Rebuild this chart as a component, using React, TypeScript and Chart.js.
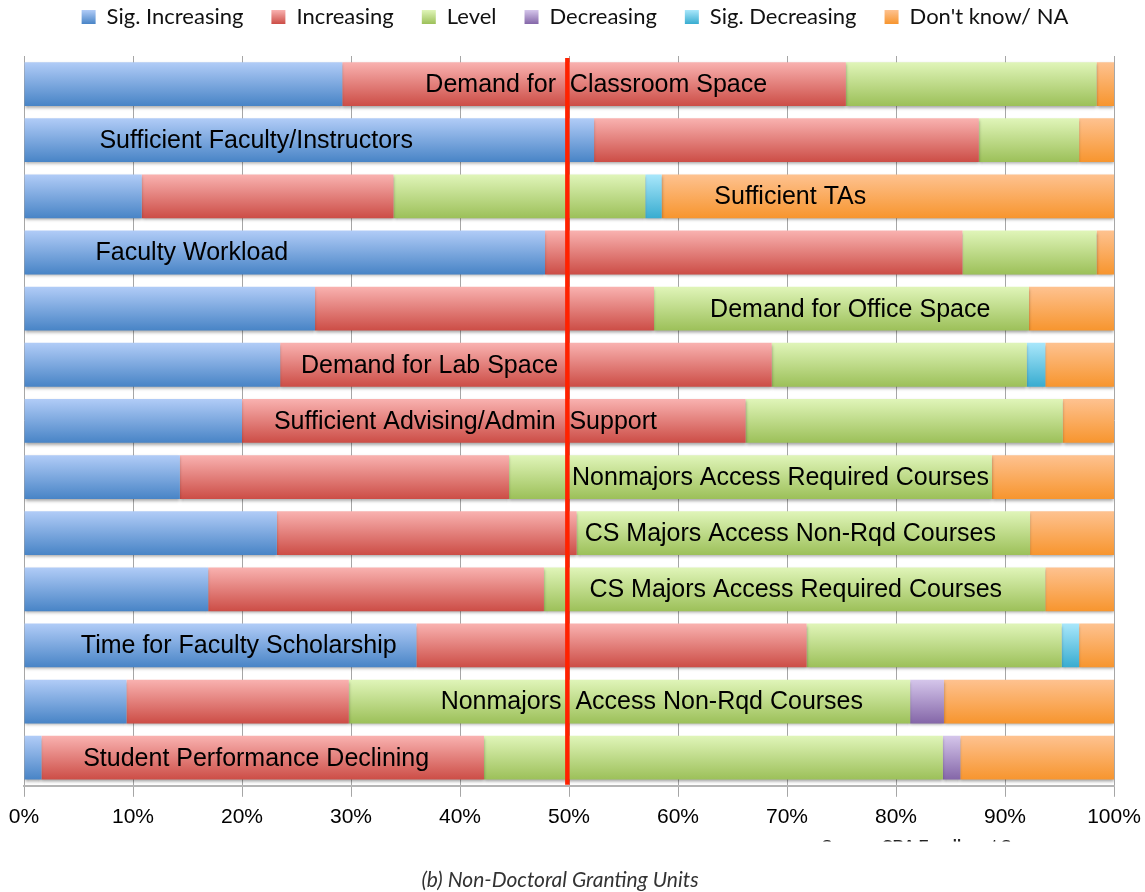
import React, { useEffect, useRef } from 'react';
import { Chart, registerables } from 'chart.js';

Chart.register(...registerables);

// ---------- data ----------
const categories = [
  'Demand for  Classroom Space',
  'Sufficient Faculty/Instructors',
  'Sufficient TAs',
  'Faculty Workload',
  'Demand for Office Space',
  'Demand for Lab Space',
  'Sufficient Advising/Admin  Support',
  'Nonmajors Access Required Courses',
  'CS Majors Access Non-Rqd Courses',
  'CS Majors Access Required Courses',
  'Time for Faculty Scholarship',
  'Nonmajors  Access Non-Rqd Courses',
  'Student Performance Declining',
];

const seriesNames = ['Sig. Increasing', 'Increasing', 'Level', 'Decreasing', 'Sig. Decreasing', "Don't know/ NA"];

const sigIncreasing = [29.2, 52.3, 10.8, 47.8, 26.7, 23.5, 20.0, 14.3, 23.2, 16.9, 36.0, 9.4, 1.6];
const increasing = [46.2, 35.3, 23.1, 38.3, 31.1, 45.1, 46.2, 30.2, 27.5, 30.8, 35.8, 20.4, 40.6];
const level = [23.0, 9.2, 23.1, 12.3, 34.4, 23.4, 29.1, 44.3, 41.6, 46.0, 23.4, 51.5, 42.1];
const decreasing = [null, null, null, null, null, null, null, null, null, null, null, 3.1, 1.6];
const sigDecreasing = [null, null, 1.5, null, null, 1.7, null, null, null, null, 1.6, null, null];
const dontKnow = [1.6, 3.2, 41.5, 1.6, 7.8, 6.3, 4.7, 11.2, 7.7, 6.3, 3.2, 15.6, 14.1];

// where each in-bar label is centred (percent on the x axis)
const labelAt = [52.5, 21.3, 70.3, 15.4, 75.8, 37.2, 40.5, 69.4, 70.3, 70.8, 19.7, 57.6, 21.3];
// red reference line (percent)
const midline = 49.85;

const xTickValues = [0, 10, 20, 30, 40, 50, 60, 70, 80, 90, 100];

const caption = '(b) Non-Doctoral Granting Units';
const sourceNote = 'Source: CRA Enrollment Survey';

// ---------- styles ----------
const palette: [string, string][] = [
  ['#b1ccf7', '#4884c6'],
  ['#f9b2b0', '#cc4d46'],
  ['#e0f5b9', '#9cc059'],
  ['#d5c6eb', '#8466a8'],
  ['#a9e7fb', '#38acd0'],
  ['#fec290', '#f7952e'],
];
const BAR_PCT = 0.78;

const makeBg = (k: number) => (ctx: any) => {
  const chart = ctx.chart;
  const area = chart.chartArea;
  const [top, bottom] = palette[k];
  if (!area || ctx.type !== 'data') return bottom;
  const ys = chart.scales.y;
  const c = ys.getPixelForValue(ctx.dataIndex);
  const half = ((area.bottom - area.top) / categories.length) * BAR_PCT / 2;
  const g = chart.ctx.createLinearGradient(0, c - half, 0, c + half);
  g.addColorStop(0, top);
  g.addColorStop(1, bottom);
  return g;
};

const LEGEND_TOP = -22;
const LEGEND_SHIFT = 6;

const decorPlugin = {
  id: 'decor',
  afterLayout(chart: any) {
    const lg = chart.legend;
    if (lg) {
      const h = lg.height;
      lg.top = LEGEND_TOP;
      lg.bottom = LEGEND_TOP + h;
      lg.left += LEGEND_SHIFT;
      lg.right += LEGEND_SHIFT;
    }
  },
  beforeDatasetsDraw(chart: any) {
    const c = chart.ctx;
    c.save();
    c.shadowColor = 'rgba(0,0,0,0.35)';
    c.shadowBlur = 3;
    c.shadowOffsetY = 2;
  },
  afterDatasetsDraw(chart: any) {
    const c = chart.ctx;
    c.restore();
    const xs = chart.scales.x;
    const ys = chart.scales.y;
    const area = chart.chartArea;
    c.save();
    c.font = '25px "Liberation Sans", Arial, sans-serif';
    c.fillStyle = '#000';
    c.textAlign = 'center';
    c.textBaseline = 'middle';
    categories.forEach((t, i) => {
      c.fillText(t, xs.getPixelForValue(labelAt[i]), ys.getPixelForValue(i) + 1);
    });
    const mx = xs.getPixelForValue(midline);
    c.strokeStyle = '#ff2200';
    c.lineWidth = 4.5;
    c.beginPath();
    c.moveTo(mx, area.top + 2);
    c.lineTo(mx, area.bottom - 1);
    c.stroke();
    c.restore();

    c.save();
    c.beginPath();
    c.rect(800, 836, 300, 5.5);
    c.clip();
    c.font = 'bold 15px "Liberation Sans", Arial, sans-serif';
    c.fillStyle = '#222';
    c.textAlign = 'left';
    c.textBaseline = 'top';
    c.fillText(sourceNote, 822, 838);
    c.restore();
  },
};

export default function App() {
  const ref = useRef<HTMLCanvasElement | null>(null);

  useEffect(() => {
    if (!ref.current) return;
    const series = [sigIncreasing, increasing, level, decreasing, sigDecreasing, dontKnow];
    const chart = new Chart(ref.current, {
      type: 'bar',
      data: {
        labels: categories,
        datasets: series.map((d, k) => ({
          label: seriesNames[k],
          data: d as any,
          backgroundColor: makeBg(k) as any,
          borderWidth: 0,
          barPercentage: BAR_PCT,
          categoryPercentage: 1,
        })),
      },
      options: {
        indexAxis: 'y',
        responsive: false,
        maintainAspectRatio: false,
        animation: false,
        layout: { padding: { left: 24, right: 31, top: 0, bottom: 54 } },
        plugins: {
          legend: {
            position: 'top',
            maxHeight: 56,
            labels: {
              boxWidth: 14,
              boxHeight: 14,
              padding: 28,
              color: '#111',
              font: { family: 'Lato, "Open Sans", sans-serif', size: 22 },
              generateLabels: (ch: any) => {
                const items = (Chart.defaults.plugins.legend.labels as any).generateLabels(ch);
                return items.map((it: any, k: number) => {
                  const g = ch.ctx.createLinearGradient(0, 10, 0, 24);
                  g.addColorStop(0, palette[k][0]);
                  g.addColorStop(1, palette[k][1]);
                  return { ...it, fillStyle: g, strokeStyle: 'rgba(0,0,0,0)', lineWidth: 0 };
                });
              },
            },
          } as any,
          tooltip: { enabled: false },
          title: { display: false },
        },
        scales: {
          x: {
            stacked: true,
            min: 0,
            max: 100,
            afterBuildTicks: (s: any) => {
              s.ticks = xTickValues.map((v) => ({ value: v }));
            },
            afterFit: (s: any) => {
              s.paddingLeft = 0;
              s.paddingRight = 0;
            },
            ticks: {
              callback: (v: any) => `${v}%`,
              color: '#000',
              font: { family: '"Liberation Sans", Arial, sans-serif', size: 21 },
              padding: 8,
              maxRotation: 0,
              autoSkip: false,
            },
            grid: { color: '#a6a6a6', lineWidth: 1, tickLength: 11, drawOnChartArea: true },
            border: { color: '#b5b5b5', width: 2 },
          },
          y: {
            stacked: true,
            display: false,
            grid: { display: false },
          },
        },
      },
      plugins: [decorPlugin as any],
    });
    return () => chart.destroy();
  }, []);

  return (
    <div style={{ position: 'absolute', left: 0, top: 0, width: 1145, height: 892, background: '#fff', overflow: 'hidden' }}>
      <canvas ref={ref} width={1145} height={892} style={{ display: 'block', width: 1145, height: 892 }} />
      <div
        style={{
          position: 'absolute',
          left: 0,
          top: 866,
          width: 1120,
          textAlign: 'center',
          fontFamily: 'Lato, "Open Sans", sans-serif',
          fontStyle: 'italic',
          fontSize: 21,
          color: '#333',
        }}
      >
        {caption}
      </div>
    </div>
  );
}
